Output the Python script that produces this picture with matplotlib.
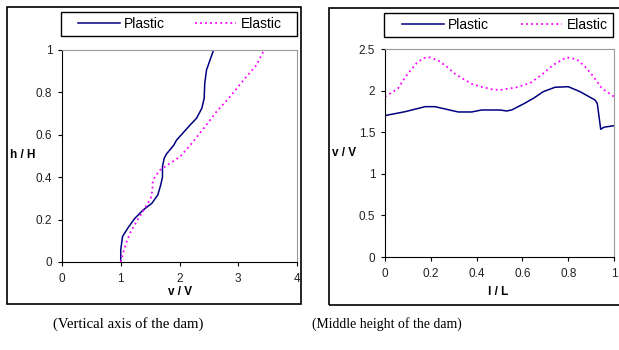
import matplotlib
matplotlib.use("Agg")
import matplotlib.pyplot as plt
from matplotlib.patches import Rectangle

plt.rcParams['font.family'] = ['Liberation Sans', 'DejaVu Sans']

# 左圖: 壩體垂直軸 (v/V vs h/H)
left_plastic_v = [1.0, 1.0, 1.03, 1.13, 1.24, 1.38, 1.53, 1.63, 1.68, 1.71, 1.71, 1.74, 1.78,
                  1.90, 1.95, 2.18, 2.29, 2.38, 2.42, 2.43, 2.46, 2.52, 2.58]
left_plastic_h = [0.0, 0.057, 0.12, 0.164, 0.206, 0.245, 0.277, 0.316, 0.363, 0.40, 0.45, 0.49, 0.51,
                  0.55, 0.575, 0.646, 0.678, 0.725, 0.772, 0.843, 0.906, 0.953, 1.0]
left_elastic_v = [1.0, 1.03, 1.10, 1.17, 1.30, 1.41, 1.51, 1.54, 1.54, 1.58, 1.67, 1.84, 2.01,
                  2.18, 2.41, 2.63, 2.86, 3.09, 3.31, 3.44]
left_elastic_h = [0.0, 0.033, 0.096, 0.143, 0.206, 0.253, 0.30, 0.34, 0.371, 0.402, 0.434, 0.466, 0.497,
                  0.55, 0.63, 0.709, 0.78, 0.858, 0.929, 1.0]

# 右圖: 壩體中間高度 (l/L vs v/V)
right_plastic_l = [0.0, 0.087, 0.175, 0.218, 0.32, 0.378, 0.422, 0.502, 0.531, 0.553, 0.604, 0.648,
                   0.691, 0.742, 0.8, 0.852, 0.917, 0.927, 0.942, 0.956, 1.0]
right_plastic_v = [1.70, 1.746, 1.807, 1.807, 1.743, 1.743, 1.767, 1.767, 1.755, 1.767, 1.839, 1.907,
                   1.987, 2.04, 2.047, 1.987, 1.887, 1.847, 1.535, 1.56, 1.578]
right_elastic_l = [0.0, 0.029, 0.058, 0.076, 0.099, 0.138, 0.167, 0.197, 0.233, 0.269, 0.306, 0.342,
                   0.379, 0.415, 0.466, 0.502, 0.575, 0.633, 0.684, 0.735, 0.793, 0.837, 0.873,
                   0.91, 0.946, 1.0]
right_elastic_v = [1.927, 1.975, 2.03, 2.11, 2.2, 2.33, 2.39, 2.40, 2.36, 2.29, 2.20, 2.14,
                   2.08, 2.05, 2.015, 2.007, 2.04, 2.09, 2.19, 2.31, 2.40, 2.376, 2.29,
                   2.17, 2.03, 1.927]

W, H = 619, 350
fig = plt.figure(figsize=(W / 100, H / 100), dpi=100)


def fx(px):
    return px / W


def fy(py):
    return 1 - py / H


def box(x0, y0, x1, y1, lw):
    fig.patches.append(Rectangle((fx(x0), fy(y1)), (x1 - x0) / W, (y1 - y0) / H,
                                 transform=fig.transFigure, fill=False,
                                 edgecolor='black', linewidth=lw))


# 外框
box(7, 7, 301, 304, 1.2)
box(329, 8, 630, 305, 1.2)
# 圖例框
box(61, 12, 297, 36, 1.0)
box(384, 13, 613, 37, 1.0)

plastic_style = dict(color='#000080', linewidth=1.1, label='Plastic')
elastic_style = dict(color='#FF00FF', linewidth=1.3, linestyle=(0, (1, 1.8)), label='Elastic')


def style_axes(ax):
    for s in ['top', 'right']:
        ax.spines[s].set_color('#999999')
    for s in ['left', 'bottom']:
        ax.spines[s].set_color('black')
    ax.tick_params(direction='out', length=3, width=0.8, labelsize=8.5, colors='black',
                   labelcolor='#222222')
    ax.tick_params(axis='y', pad=4)
    ax.tick_params(axis='x', pad=5)


def add_legend(ax, x_start, y_mid, colgap):
    ax.legend(loc='center left', bbox_to_anchor=(fx(x_start), fy(y_mid)),
              bbox_transform=fig.transFigure, ncol=2, fontsize=10, frameon=False,
              handlelength=3.0, handletextpad=0.3, borderaxespad=0, borderpad=0,
              columnspacing=colgap)


ax1 = fig.add_axes([fx(62), fy(262), fx(235), 212 / H])
ax1.plot(left_plastic_v, left_plastic_h, **plastic_style)
ax1.plot(left_elastic_v, left_elastic_h, **elastic_style)
ax1.set_xlim(0, 4)
ax1.set_ylim(0, 1)
ax1.set_xticks([0, 1, 2, 3, 4])
ax1.set_yticks([0, 0.2, 0.4, 0.6, 0.8, 1])
ax1.set_yticklabels(['0', '0.2', '0.4', '0.6', '0.8', '1'])
style_axes(ax1)
fig.text(fx(10), fy(155), 'h / H', fontsize=8.5, fontweight='bold', ha='left', va='center')
fig.text(fx(180), fy(292), 'v / V', fontsize=8.5, fontweight='bold', ha='center', va='center')
add_legend(ax1, 78, 24, 2.15)

ax2 = fig.add_axes([fx(385), fy(257), fx(229), 208 / H])
ax2.plot(right_plastic_l, right_plastic_v, **plastic_style)
ax2.plot(right_elastic_l, right_elastic_v, **elastic_style)
ax2.set_xlim(0, 1)
ax2.set_ylim(0, 2.5)
ax2.set_xticks([0, 0.2, 0.4, 0.6, 0.8, 1])
ax2.set_xticklabels(['0', '0.2', '0.4', '0.6', '0.8', '1'])
ax2.set_yticks([0, 0.5, 1, 1.5, 2, 2.5])
ax2.set_yticklabels(['0', '0.5', '1', '1.5', '2', '2.5'])
style_axes(ax2)
fig.text(fx(332), fy(153), 'v / V', fontsize=8.5, fontweight='bold', ha='left', va='center')
fig.text(fx(498), fy(292), 'l / L', fontsize=8.5, fontweight='bold', ha='center', va='center')
add_legend(ax2, 402, 25, 2.3)

# 說明文字
fig.text(fx(128), fy(324), '(Vertical axis of the dam)', fontsize=10.6,
         family=['Liberation Serif', 'DejaVu Serif'], ha='center', va='center')
fig.text(fx(387), fy(324), '(Middle height of the dam)', fontsize=9.9,
         family=['Liberation Serif', 'DejaVu Serif'], ha='center', va='center')

fig.savefig('out.png', dpi=100)
